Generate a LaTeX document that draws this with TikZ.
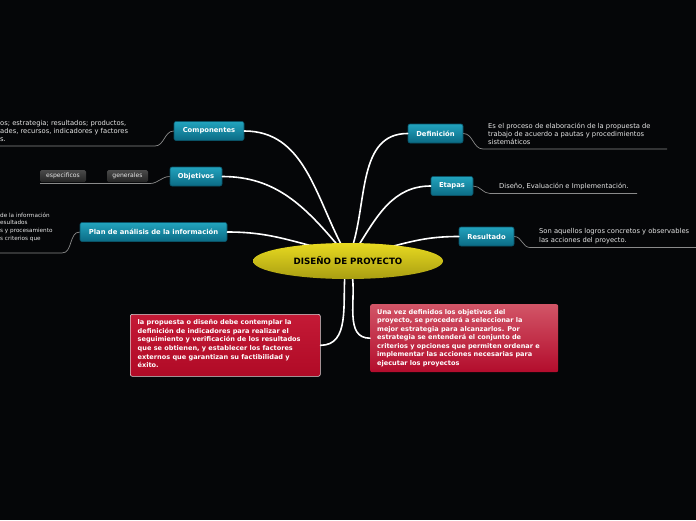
\documentclass[tikz,border=0pt]{standalone}
\usepackage{fontspec}
\setmainfont{DejaVu Sans}
\usetikzlibrary{shapes.geometric}
\definecolor{bgc}{HTML}{050608}
\definecolor{tealtop}{HTML}{22A3BE}
\definecolor{tealbot}{HTML}{0B6A84}
\definecolor{tealedge}{HTML}{0A5266}
\definecolor{yeltop}{HTML}{E8DA20}
\definecolor{yelbot}{HTML}{A99E12}
\definecolor{redtop}{HTML}{C41A36}
\definecolor{redbot}{HTML}{B00A26}
\definecolor{pinktop}{HTML}{D25567}
\definecolor{pinkbot}{HTML}{B30C2C}
\definecolor{grytop}{HTML}{4A4A4A}
\definecolor{grybot}{HTML}{242424}
\definecolor{linegray}{HTML}{8A8A8A}
\definecolor{txtgray}{HTML}{E6E6E6}
\begin{document}
\begin{tikzpicture}[x=1pt,y=-1pt,
  topic/.style={rectangle, rounded corners=2pt, draw=tealedge, line width=0.6pt,
    top color=tealtop, bottom color=tealbot, text=white,
    font=\fontsize{6.8}{8}\selectfont\bfseries, inner sep=0pt, minimum height=19pt},
  subbox/.style={rectangle, rounded corners=1.5pt, top color=grytop, bottom color=grybot,
    text=txtgray, font=\fontsize{6.1}{7}\selectfont, inner sep=0pt, minimum height=12pt},
  desc/.style={text=txtgray, font=\fontsize{6.75}{8.2}\selectfont, align=left, inner sep=0pt, anchor=north west},
  smalldesc/.style={text=txtgray, font=\fontsize{5.7}{7.6}\selectfont, align=left, inner sep=0pt, anchor=north west},
  branch/.style={draw=white, line width=1.6pt, line cap=round},
  under/.style={draw=linegray, line width=0.7pt},
  notebox/.style={rectangle, rounded corners=2pt, inner sep=0pt, anchor=north west},
  notetext/.style={text=white, font=\fontsize{6.55}{8.55}\selectfont\bfseries, align=left, inner sep=0pt, anchor=north west},
  center/.style={ellipse, minimum width=190pt, minimum height=36pt, inner sep=0pt,
    top color=yeltop, bottom color=yelbot, font=\fontsize{8.7}{10}\selectfont\bfseries, text=black}
]
\useasboundingbox (0,0) rectangle (696,520);
\fill[bgc] (0,0) rectangle (696,520);

% topic boxes
\node[topic, minimum width=70pt] (comp) at (209,131) {Componentes};
\node[topic, minimum width=52pt] (obj) at (196,176.5) {Objetivos};
\node[topic, minimum width=147pt] (plan) at (153.5,232) {Plan de análisis de la información};
\node[topic, minimum width=55pt] (def) at (435.5,133.5) {Definición};
\node[topic, minimum width=42pt] (eta) at (452,186) {Etapas};
\node[topic, minimum width=55pt] (res) at (486.5,236.5) {Resultado};

% sub boxes of Objetivos
\node[subbox, minimum width=46pt] (esp) at (63,176) {especificos};
\node[subbox, minimum width=41pt] (gen) at (127.5,176) {generales};

% note boxes
\node[notebox, draw=white!85!black, line width=0.6pt, top color=redtop, bottom color=redbot,
  minimum width=190pt, minimum height=62pt] (noteL) at (130,314) {};
\node[notetext] (noteLtxt) at (137.5,319.5) {la propuesta o diseño debe contemplar la\\definición de indicadores para realizar el\\seguimiento y verificación de los resultados\\que se obtienen, y establecer los factores\\externos que garantizan su factibilidad y\\éxito.};
\node[notebox, top color=pinktop, bottom color=pinkbot,
  minimum width=188pt, minimum height=68pt] (noteR) at (370,304) {};
\node[notetext] (noteRtxt) at (377,309) {Una vez definidos los objetivos del\\proyecto, se procederá a seleccionar la\\mejor estrategia para alcanzarlos. Por\\estrategia se entenderá el conjunto de\\criterios y opciones que permiten ordenar e\\implementar las acciones necesarias para\\ejecutar los proyectos};

% description texts
\node[desc] (compd) at (0,120) {os; estrategia; resultados; productos,\\ades, recursos, indicadores y factores\\s.};
\node[smalldesc] (pland) at (0,212.5) {de la información\\esultados\\s y procesamiento\\s criterios que};
\node[desc] (defd) at (488,122.5) {Es el proceso de elaboración de la propuesta de\\trabajo de acuerdo a pautas y procedimientos\\sistemáticos};
\node[desc] (etad) at (499,183) {Diseño, Evaluación e Implementación.};
\node[desc] (resd) at (539,228.5) {Son aquellos logros concretos y observables\\las acciones del proyecto.};

% underline coordinates
\coordinate (compu1) at (155,146);
\coordinate (compu0) at (0,146);
\coordinate (obju1) at (150,183.5);
\coordinate (obju0) at (40,183.5);
\coordinate (planu1) at (62,253);
\coordinate (planu0) at (0,253);
\coordinate (defu1) at (483,149);
\coordinate (defu2) at (667,149);
\coordinate (etau1) at (490,193.5);
\coordinate (etau2) at (637,193.5);
\coordinate (resu1) at (530,247.5);
\coordinate (resu2) at (696,247.5);

\draw[under] (comp.west) to[out=180,in=0] (compu1) -- (compu0);
\draw[under] (obj.west) to[out=180,in=0] (obju1) -- (obju0);
\draw[under] (plan.west) to[out=180,in=0] (planu1) -- (planu0);
\draw[under] (def.east) to[out=0,in=180] (defu1) -- (defu2);
\draw[under] (eta.east) to[out=0,in=180] (etau1) -- (etau2);
\draw[under] (res.east) to[out=0,in=180] (resu1) -- (resu2);

% branches from center
\coordinate (e1) at (343,248);
\coordinate (e2) at (340,248);
\coordinate (e3) at (312,246);
\coordinate (e4) at (352,248);
\coordinate (e5) at (357,248);
\coordinate (e6) at (390,247);
\coordinate (e7) at (345,274);
\coordinate (e8) at (352,274);

\draw[branch] (comp.east) to[out=0,in=118] (e1);
\draw[branch] (obj.east) to[out=0,in=130] (e2);
\draw[branch] (plan.east) to[out=0,in=165] (e3);
\draw[branch] (def.west) to[out=180,in=72] (e4);
\draw[branch] (eta.west) to[out=180,in=58] (e5);
\draw[branch] (res.west) to[out=180,in=15] (e6);
\draw[branch] (e7) to[out=265,in=0] (noteL.east);
\draw[branch] (e8) to[out=-80,in=180] (noteR.west);

% central node over the branches
\node[center] (ctr) at (348,261) {DISEÑO DE PROYECTO};
\end{tikzpicture}
\end{document}
